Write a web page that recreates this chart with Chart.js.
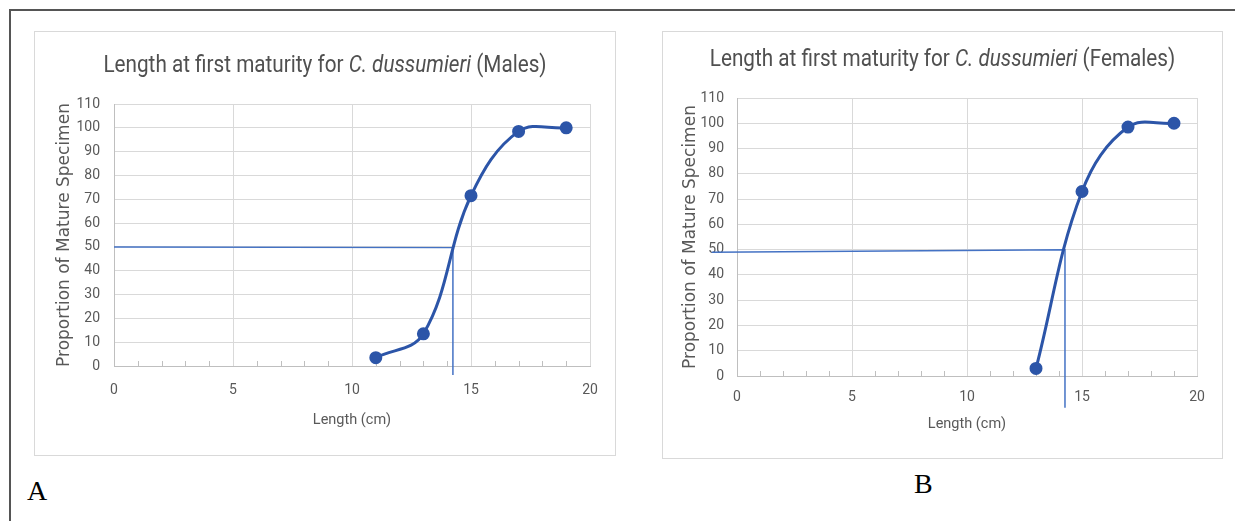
<!DOCTYPE html>
<html>
<head>
<meta charset="utf-8">
<script src="https://cdn.jsdelivr.net/npm/chart.js@4/dist/chart.umd.min.js"></script>
<style>
  html, body { margin:0; padding:0; background:#fff; }
  body { width:1235px; height:521px; position:relative; overflow:hidden; }
  .frameTop { position:absolute; left:9px; top:9px; width:1226px; height:2px; background:#555; }
  .frameLeft { position:absolute; left:9px; top:9px; width:2px; height:512px; background:#555; }
  .box { position:absolute; outline:1px solid #d9d9d9; }
  .box canvas { position:absolute; left:0; top:0; }
  .title { position:absolute; left:0; width:100%; text-align:center; font-family:"Roboto",sans-serif; font-size:23px; color:#505050; white-space:nowrap; transform:scaleX(0.9); transform-origin:50% 50%; }
  .panel { position:absolute; font-family:"Liberation Serif","Times New Roman",serif; font-size:28px; color:#000; }
</style>
</head>
<body>
<div class="frameTop"></div>
<div class="frameLeft"></div>

<div class="box" id="boxA" style="left:35px;top:32px;width:580px;height:423px;">
  <canvas id="chartA" width="580" height="423"></canvas>
  <div class="title" style="top:19px;">Length at first maturity for <i>C. dussumieri</i> (Males)</div>
</div>
<div class="box" id="boxB" style="left:663px;top:32px;width:559px;height:426px;">
  <canvas id="chartB" width="559" height="426"></canvas>
  <div class="title" style="top:13px;">Length at first maturity for <i>C. dussumieri</i> (Females)</div>
</div>
<div class="panel" style="left:27px;top:475px;">A</div>
<div class="panel" style="left:914px;top:468px;">B</div>

<script>
// ---- Data ----
const malesLength = [11, 13, 15, 17, 19];
const malesMature = [3.5, 13.5, 71.5, 98.5, 100];
const malesRefX = [0, 14.24, 14.24];
const malesRefY = [50, 49.7, -3.8];

const femalesLength = [13, 15, 17, 19];
const femalesMature = [3, 73, 98.5, 100];
const femalesRefX = [-1.1, 14.26, 14.26];
const femalesRefY = [49, 50, -12.6];

const xMin = 0, xMax = 20, xMajor = 5;
const yMin = 0, yMax = 110, yStep = 10;
const xTitle = 'Length (cm)';
const yTitle = 'Proportion of Mature Specimen';

const tickFont = { family: '"Roboto", sans-serif', size: 14 };
const tickColor = '#595959';

const toPts = (xs, ys) => xs.map((x, i) => ({ x: x, y: ys[i] }));

const minorTicks = {
  id: 'minorTicks',
  beforeDatasetsDraw(chart) {
    const xs = chart.scales.x;
    const ctx = chart.ctx;
    const bottom = chart.chartArea.bottom;
    ctx.save();
    ctx.strokeStyle = '#bfbfbf';
    ctx.lineWidth = 1;
    xs.ticks.forEach(t => {
      if (t.value % xMajor !== 0) {
        const px = Math.round(xs.getPixelForValue(t.value)) + 0.5;
        ctx.beginPath();
        ctx.moveTo(px, bottom);
        ctx.lineTo(px, bottom - 5);
        ctx.stroke();
      }
    });
    ctx.restore();
  }
};

function makeChart(id, lens, vals, refX, refY, g) {
  return new Chart(document.getElementById(id), {
    type: 'line',
    data: {
      datasets: [
        {
          data: toPts(lens, vals),
          borderColor: '#2c55a8',
          backgroundColor: '#2c55a8',
          borderWidth: 3,
          pointRadius: 5,
          pointHoverRadius: 5,
          tension: 0.38,
          fill: false,
          order: 1
        },
        {
          data: toPts(refX, refY),
          borderColor: '#4472c4',
          borderWidth: 1.5,
          pointRadius: 0,
          tension: 0,
          fill: false,
          clip: false,
          order: 2
        }
      ]
    },
    options: {
      responsive: false,
      animation: false,
      events: [],
      layout: { padding: { left: 0, top: g.top, right: g.right, bottom: 0 } },
      plugins: { legend: { display: false }, title: { display: false }, tooltip: { enabled: false } },
      scales: {
        x: {
          type: 'linear',
          min: xMin, max: xMax,
          afterFit(s) { s.height = g.xHeight; },
          ticks: {
            stepSize: 1, autoSkip: false, maxRotation: 0,
            padding: g.xTickPad,
            font: tickFont, color: tickColor,
            callback: v => (v % xMajor === 0 ? String(v) : '')
          },
          grid: {
            drawTicks: false,
            color: c => (c.tick && c.tick.value % xMajor === 0 ? '#d9d9d9' : 'rgba(0,0,0,0)'),
            lineWidth: 1
          },
          border: { color: '#bfbfbf', width: 1 },
          title: {
            display: true, text: xTitle, color: tickColor,
            font: { family: '"Roboto", sans-serif', size: 14.5 },
            padding: { top: 0, bottom: g.xTitlePad }
          }
        },
        y: {
          min: yMin, max: yMax,
          afterFit(s) { s.width = g.yWidth; },
          ticks: { stepSize: yStep, padding: g.yTickPad, font: tickFont, color: tickColor },
          grid: { drawTicks: false, color: '#d9d9d9', lineWidth: 1 },
          border: { color: '#bfbfbf', width: 1 },
          title: {
            display: true, text: yTitle, color: tickColor,
            font: { family: '"DejaVu Sans", Verdana, sans-serif', size: 17 },
            padding: { top: g.yTitlePad, bottom: 0 }
          }
        }
      }
    },
    plugins: [minorTicks]
  });
}

makeChart('chartA', malesLength, malesMature, malesRefX, malesRefY,
  { top: 72, right: 25, xHeight: 89, xTickPad: 16, xTitlePad: 26.3, yWidth: 79, yTickPad: 14, yTitlePad: 19.8 });
makeChart('chartB', femalesLength, femalesMature, femalesRefX, femalesRefY,
  { top: 66, right: 25, xHeight: 82, xTickPad: 13, xTitlePad: 25.3, yWidth: 74, yTickPad: 13, yTitlePad: 17.8 });
</script>
</body>
</html>
